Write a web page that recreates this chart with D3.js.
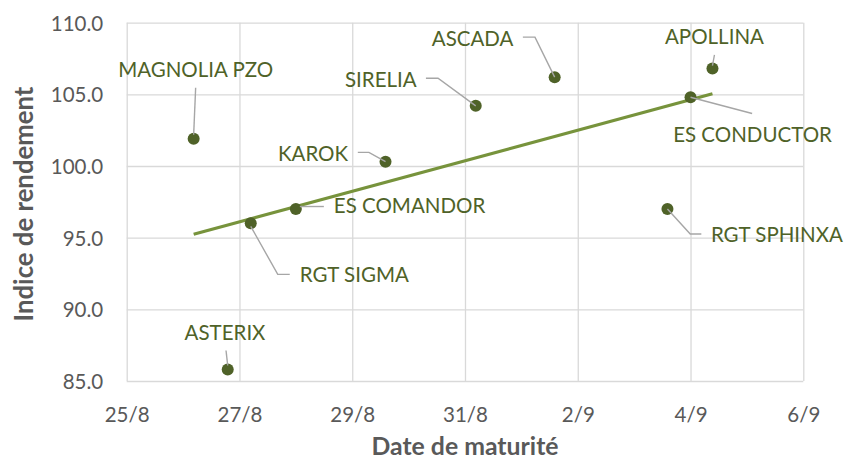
<!DOCTYPE html>
<html>
<head>
<meta charset="utf-8">
<script src="https://cdn.jsdelivr.net/npm/d3@7"></script>
<style>
  html, body { margin: 0; padding: 0; background: #fff; }
  svg { display: block; }
  text { font-family: Lato, "Noto Sans", sans-serif; }
</style>
</head>
<body>
<svg id="chart" width="844" height="463"></svg>
<script>
// ---- Data ----
const varieties = ["MAGNOLIA PZO", "ASTERIX", "RGT SIGMA", "ES COMANDOR", "KAROK",
                   "SIRELIA", "ASCADA", "RGT SPHINXA", "ES CONDUCTOR", "APOLLINA"];
const maturityDates = ["2023-08-26T04:30Z", "2023-08-26T19:00Z", "2023-08-27T04:48Z", "2023-08-28T00:00Z",
                       "2023-08-29T14:10Z", "2023-08-31T04:34Z", "2023-09-01T14:10Z", "2023-09-03T14:10Z",
                       "2023-09-04T00:00Z", "2023-09-04T09:20Z"];
const yieldIndex = [101.9, 85.8, 96.0, 97.0, 100.3, 104.2, 106.2, 97.0, 104.8, 106.8];
const xTickDates = ["2023-08-25T00:00Z", "2023-08-27T00:00Z", "2023-08-29T00:00Z", "2023-08-31T00:00Z",
                    "2023-09-02T00:00Z", "2023-09-04T00:00Z", "2023-09-06T00:00Z"];
const xTickLabels = ["25/8", "27/8", "29/8", "31/8", "2/9", "4/9", "6/9"];
const yTicks = [85, 90, 95, 100, 105, 110];

// ---- Label layout (pixel offsets from each point) ----
const labelLayout = {
  "MAGNOLIA PZO": { dx: 2, dy: -62, anchor: "middle", leader: [[2, -51], [0, -4]] },
  "ASTERIX":      { dx: -2.7, dy: -30, anchor: "middle", leader: [[-1.7, -19], [0, -4]] },
  "RGT SIGMA":    { dx: 49, dy: 59, anchor: "start", leader: [[0, 3], [27, 51], [39, 51]] },
  "ES COMANDOR":  { dx: 38, dy: 4.3, anchor: "start", leader: [[4, -2.5], [28, -2.5]] },
  "KAROK":        { dx: -37.4, dy: -1, anchor: "end", leader: [[-27.7, -9.3], [-16.6, -9.3], [0, 0]] },
  "SIRELIA":      { dx: -59.1, dy: -19, anchor: "end", leader: [[-49.8, -27.6], [-37.7, -27.6], [0, 0]] },
  "ASCADA":       { dx: -41.2, dy: -31, anchor: "end", leader: [[-31.8, -40], [-19.7, -40], [0, 0]] },
  "APOLLINA":     { dx: 2, dy: -24.7, anchor: "middle", leader: [[2, -13.7], [0, -3]] },
  "ES CONDUCTOR": { dx: 62, dy: 44.3, anchor: "middle", leader: [[0, 0], [61.6, 16.3]] },
  "RGT SPHINXA":  { dx: 43.5, dy: 33.3, anchor: "start", leader: [[0, 0], [22.8, 25], [33.9, 25]] }
};

const parse = s => new Date(s);
const data = varieties.map((name, i) => ({ name, date: parse(maturityDates[i]), value: yieldIndex[i] }));

const svg = d3.select("#chart");
const plot = { left: 126.7, right: 803.3, top: 22.7, bottom: 381 };

const x = d3.scaleUtc()
  .domain([parse(xTickDates[0]), parse(xTickDates[xTickDates.length - 1])])
  .range([plot.left, plot.right]);
const y = d3.scaleLinear().domain([85, 110]).range([plot.bottom, plot.top]);

const gridColor = "#d9d9d9";
const textGray = "#595959";
const green = "#4f6228";

// Gridlines + tick labels
const gx = svg.append("g")
  .attr("transform", `translate(0,${plot.bottom})`)
  .call(d3.axisBottom(x)
    .tickValues(xTickDates.map(parse))
    .tickSize(-(plot.bottom - plot.top))
    .tickFormat((d, i) => xTickLabels[i]));
gx.select(".domain").remove();
gx.selectAll("line").attr("stroke", gridColor).attr("stroke-width", 1.3);
gx.selectAll("text")
  .attr("fill", textGray).attr("font-size", "20.5px")
  .attr("y", 41).attr("dy", 0);

const gy = svg.append("g")
  .attr("transform", `translate(${plot.left},0)`)
  .call(d3.axisLeft(y)
    .tickValues(yTicks)
    .tickSize(-(plot.right - plot.left))
    .tickFormat(d3.format(".1f")));
gy.select(".domain").remove();
gy.selectAll("line").attr("stroke", gridColor).attr("stroke-width", 1.3);
gy.selectAll("text")
  .attr("fill", textGray).attr("font-size", "20.5px")
  .attr("x", -23.5).attr("dy", "0.36em");

// Linear trendline (least squares), spanning the data's x range
const xs = data.map(d => +d.date), vs = data.map(d => d.value);
const mx = d3.mean(xs), mv = d3.mean(vs);
const slope = d3.sum(xs.map((v, i) => (v - mx) * (vs[i] - mv))) / d3.sum(xs.map(v => (v - mx) ** 2));
const icpt = mv - slope * mx;
const [xmin, xmax] = d3.extent(xs);
svg.append("line")
  .attr("x1", x(new Date(xmin))).attr("y1", y(icpt + slope * xmin))
  .attr("x2", x(new Date(xmax))).attr("y2", y(icpt + slope * xmax))
  .attr("stroke", "#77933c").attr("stroke-width", 3.2);

// Points
svg.append("g").selectAll("circle").data(data).join("circle")
  .attr("cx", d => x(d.date)).attr("cy", d => y(d.value))
  .attr("r", 6).attr("fill", green);

// Leader lines
const lineGen = d3.line();
svg.append("g").selectAll("path").data(data).join("path")
  .attr("d", d => {
    const px = x(d.date), py = y(d.value);
    return lineGen(labelLayout[d.name].leader.map(([a, b]) => [px + a, py + b]));
  })
  .attr("fill", "none").attr("stroke", "#a6a6a6").attr("stroke-width", 1.4);

// Labels
svg.append("g").selectAll("text").data(data).join("text")
  .attr("x", d => x(d.date) + labelLayout[d.name].dx)
  .attr("y", d => y(d.value) + labelLayout[d.name].dy)
  .attr("text-anchor", d => labelLayout[d.name].anchor)
  .attr("fill", green).attr("font-size", "20.5px")
  .text(d => d.name);

// Axis titles (font size fitted to the reference text length)
function fit(sel, target) {
  const w = sel.node().getComputedTextLength();
  const fs = parseFloat(sel.attr("font-size"));
  sel.attr("font-size", (fs * target / w).toFixed(2) + "px");
}
const xt = svg.append("text")
  .attr("x", (plot.left + plot.right) / 2).attr("y", 455)
  .attr("text-anchor", "middle").attr("fill", textGray)
  .attr("font-size", "20px").attr("font-weight", "bold")
  .text("Date de maturité");
fit(xt, 187);
const yt = svg.append("text")
  .attr("transform", `translate(33,204) rotate(-90)`)
  .attr("text-anchor", "middle").attr("fill", textGray)
  .attr("font-size", "20px").attr("font-weight", "bold")
  .text("Indice de rendement");
fit(yt, 235);
</script>
</body>
</html>
